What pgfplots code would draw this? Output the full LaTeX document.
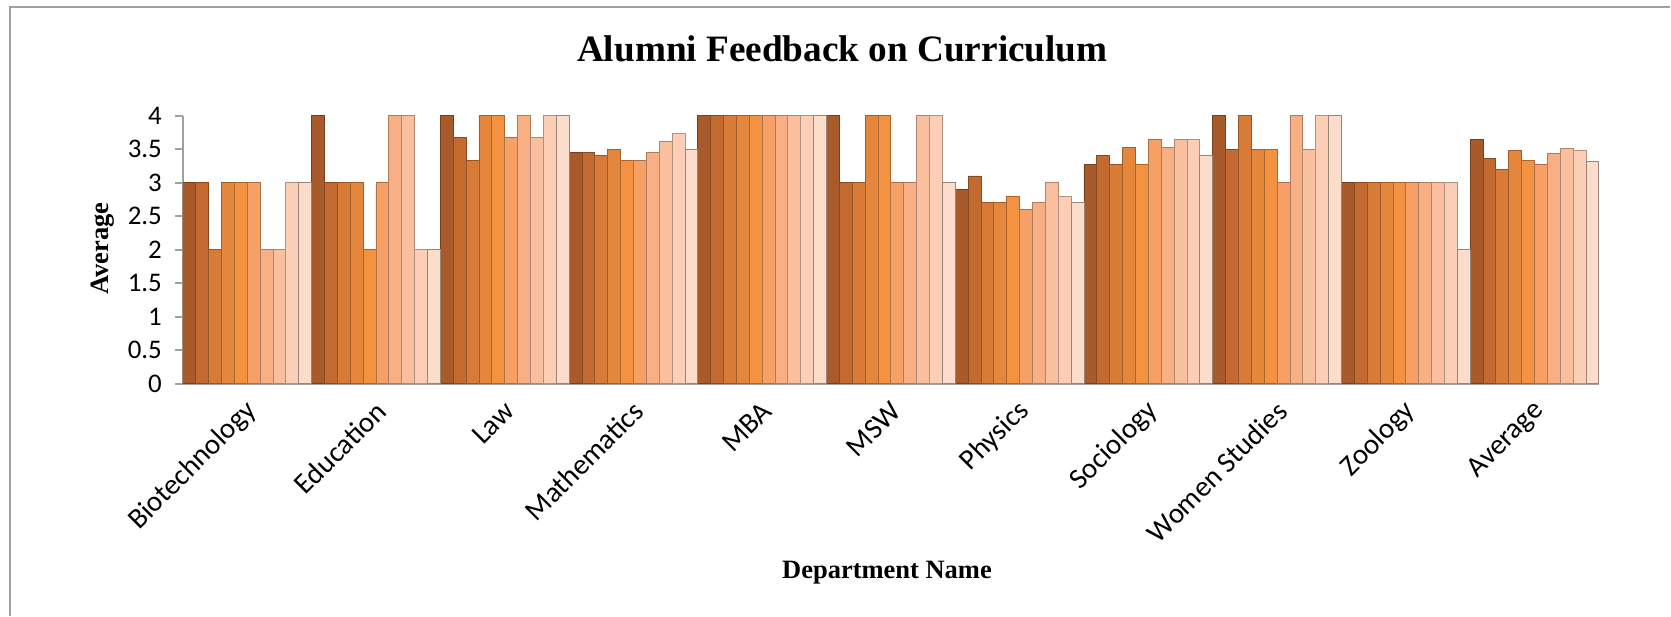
\documentclass[border=0pt]{standalone}
\usepackage{fontspec}
\setmainfont{Liberation Serif}
\newfontfamily\carl{Carlito}
\usepackage{pgfplots}
\usepackage{pgfplotstable}
\pgfplotsset{compat=1.18}

\definecolor{c1}{HTML}{A85A2A}
\definecolor{c2}{HTML}{C26A2F}
\definecolor{c3}{HTML}{D77B37}
\definecolor{c4}{HTML}{E4863C}
\definecolor{c5}{HTML}{F39240}
\definecolor{c6}{HTML}{F6A065}
\definecolor{c7}{HTML}{F8AF84}
\definecolor{c8}{HTML}{F9BF9E}
\definecolor{c9}{HTML}{FBCEB5}
\definecolor{c10}{HTML}{FCDDCC}
\definecolor{axgray}{HTML}{A0A0A0}

\pgfplotstableread{
g  s1   s2   s3   s4   s5   s6   s7   s8   s9   s10
0  3    3    2    3    3    3    2    2    3    3
1  4    3    3    3    2    3    4    4    2    2
2  4    3.67 3.33 4    4    3.67 4    3.67 4    4
3  3.45 3.45 3.40 3.50 3.33 3.33 3.45 3.62 3.73 3.50
4  4    4    4    4    4    4    4    4    4    4
5  4    3    3    4    4    3    3    4    4    3
6  2.9  3.1  2.7  2.7  2.8  2.6  2.7  3.0  2.8  2.7
7  3.27 3.40 3.27 3.52 3.27 3.64 3.52 3.64 3.64 3.40
8  4    3.5  4    3.5  3.5  3    4    3.5  4    4
9  3    3    3    3    3    3    3    3    3    2
10 3.64 3.36 3.20 3.48 3.33 3.27 3.43 3.51 3.48 3.31
}\datatable

\begin{document}
\begin{tikzpicture}
\path (0,0) rectangle (835.5bp,308bp);
\draw[axgray, line width=1.2bp] (5bp,0) -- (5bp,304.5bp) -- (835.5bp,304.5bp);
\node[anchor=base, font=\fontsize{18.7}{20}\selectfont\bfseries] at (421.5bp,277.2bp) {Alumni Feedback on Curriculum};
\node[anchor=base, font=\fontsize{13.3}{15}\selectfont\bfseries] at (443.8bp,18.5bp) {Department Name};
\node[rotate=90, font=\fontsize{13.3}{15}\selectfont\bfseries] at (51.5bp,183.5bp) {Average};
\begin{axis}[
  at={(91.5bp,116bp)}, anchor=south west,
  scale only axis, width=708.5bp, height=134.15bp,
  xmin=-0.5, xmax=10.5, ymin=0, ymax=4,
  axis x line=bottom, axis y line=left,
  axis line style={axgray, line width=1bp, -},
  ybar=0pt, bar width=6.441bp,
  xtick={0,...,10},
  xticklabels={Biotechnology,Education,Law,Mathematics,MBA,MSW,Physics,Sociology,Women Studies,Zoology,Average},
  x tick style={draw=none},
  xticklabel style={yshift=-5bp, xshift=5bp, anchor=east, rotate=45, font=\carl\fontsize{14.5}{15}\selectfont},
  ytick={0,0.5,...,4},
  y tick style={axgray, line width=1bp},
  tick align=outside, major tick length=4bp,
  yticklabel style={font=\carl\fontsize{13.5}{14}\selectfont, xshift=-3bp},
  /pgf/number format/assume math mode=true,
  every axis plot/.append style={line width=0.4bp},
]
\addplot[fill=c1, draw=c1!70!black] table[x=g, y=s1] {\datatable};
\addplot[fill=c2, draw=c2!70!black] table[x=g, y=s2] {\datatable};
\addplot[fill=c3, draw=c3!70!black] table[x=g, y=s3] {\datatable};
\addplot[fill=c4, draw=c4!70!black] table[x=g, y=s4] {\datatable};
\addplot[fill=c5, draw=c5!70!black] table[x=g, y=s5] {\datatable};
\addplot[fill=c6, draw=c6!70!black] table[x=g, y=s6] {\datatable};
\addplot[fill=c7, draw=c7!70!black] table[x=g, y=s7] {\datatable};
\addplot[fill=c8, draw=c8!70!black] table[x=g, y=s8] {\datatable};
\addplot[fill=c9, draw=c9!70!black] table[x=g, y=s9] {\datatable};
\addplot[fill=c10, draw=c10!60!black] table[x=g, y=s10] {\datatable};
\end{axis}
\end{tikzpicture}
\end{document}
